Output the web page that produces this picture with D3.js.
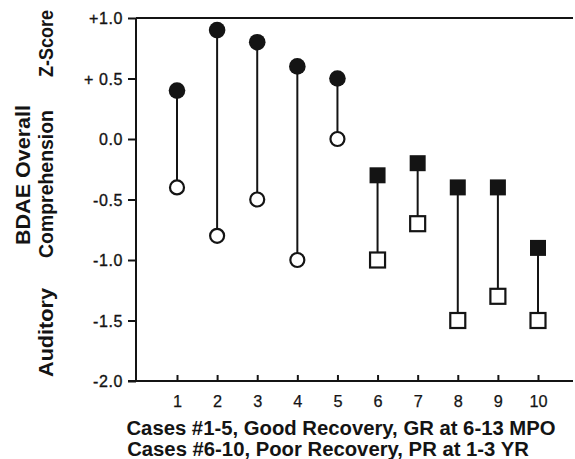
<!DOCTYPE html>
<html>
<head>
<meta charset="utf-8">
<script src="https://cdn.jsdelivr.net/npm/d3@7/dist/d3.min.js"></script>
<style>
  html, body { margin: 0; padding: 0; background: #fff; }
  svg { display: block; font-family: "Liberation Sans", Arial, Helvetica, sans-serif; }
</style>
</head>
<body>
<svg id="chart" width="575" height="459"></svg>
<script>
// ---- data ----
const cases = [1, 2, 3, 4, 5, 6, 7, 8, 9, 10];
const initialScores = [0.4, 0.9, 0.8, 0.6, 0.5, -0.3, -0.2, -0.4, -0.4, -0.9];   // filled markers
const followupScores = [-0.4, -0.8, -0.5, -1.0, 0.0, -1.0, -0.7, -1.5, -1.3, -1.5]; // open markers
const groups = ["GR", "GR", "GR", "GR", "GR", "PR", "PR", "PR", "PR", "PR"];
const yTickValues = [-2.0, -1.5, -1.0, -0.5, 0.0, 0.5, 1.0];
const yTickLabels = ["-2.0", "-1.5", "-1.0", "-0.5", "0.0", "+ 0.5", "+1.0"];
const xTitleLines = ["Cases #1-5, Good Recovery, GR at 6-13 MPO", "Cases #6-10, Poor Recovery, PR at 1-3 YR"];
const yTitleLeft = "BDAE Overall";
const yTitleRight = ["Auditory", "Comprehension", "Z-Score"];

const INK = "#141414";
const svg = d3.select("#chart");

const x = d3.scaleLinear().domain([1, 10]).range([177, 538]);
const y = d3.scaleLinear().domain([-2, 1]).range([381, 18]);
const axisX = 136;
const rightEdge = 573;

// Top frame line
svg.append("line").attr("x1", axisX).attr("x2", rightEdge)
  .attr("y1", y(1)).attr("y2", y(1)).attr("stroke", INK).attr("stroke-width", 2);

// Y axis
const yAxis = d3.axisLeft(y).tickValues(yTickValues)
  .tickFormat((d, i) => yTickLabels[i]).tickSize(8).tickPadding(5);
const gy = svg.append("g").attr("transform", `translate(${axisX},0)`).call(yAxis);
gy.select(".domain").attr("stroke", INK).attr("stroke-width", 2).attr("d", `M0,${y(1)}V${y(-2)}`);
gy.selectAll(".tick line").attr("stroke", INK).attr("stroke-width", 2);
gy.selectAll(".tick text").attr("fill", INK).attr("stroke", INK).attr("stroke-width", 0.35)
  .style("font-size", "16px").style("letter-spacing", "0.6px").attr("dy", "0.36em");

// X axis (ticks pointing inward)
const xAxis = d3.axisBottom(x).tickValues(cases).tickFormat(d3.format("d"))
  .tickSizeInner(-6).tickSizeOuter(0).tickPadding(14.5);
const gx = svg.append("g").attr("transform", `translate(0,${y(-2)})`).call(xAxis);
gx.select(".domain").attr("stroke", INK).attr("stroke-width", 2).attr("d", `M${axisX - 8},0H${rightEdge}`);
gx.selectAll(".tick line").attr("stroke", INK).attr("stroke-width", 2);
gx.selectAll(".tick text").attr("fill", INK).attr("stroke", INK).attr("stroke-width", 0.25)
  .style("font-size", "16.3px");

// Stems
const data = cases.map((c, i) => ({ c, a: initialScores[i], b: followupScores[i], g: groups[i] }));
svg.append("g").selectAll("line").data(data).join("line")
  .attr("x1", d => x(d.c)).attr("x2", d => x(d.c))
  .attr("y1", d => y(d.a)).attr("y2", d => y(d.b))
  .attr("stroke", INK).attr("stroke-width", 2);

// Markers
const mk = svg.append("g");
data.forEach(d => {
  if (d.g === "GR") {
    mk.append("circle").attr("cx", x(d.c)).attr("cy", y(d.b)).attr("r", 7)
      .attr("fill", "#fff").attr("stroke", INK).attr("stroke-width", 2.2);
    mk.append("circle").attr("cx", x(d.c)).attr("cy", y(d.a)).attr("r", 8.3)
      .attr("fill", INK);
  } else {
    mk.append("rect").attr("x", x(d.c) - 7.5).attr("y", y(d.b) - 7.5).attr("width", 15).attr("height", 15)
      .attr("fill", "#fff").attr("stroke", INK).attr("stroke-width", 2.2);
    mk.append("rect").attr("x", x(d.c) - 8).attr("y", y(d.a) - 8).attr("width", 16).attr("height", 16)
      .attr("fill", INK);
  }
});

// X title
const xt = [ {t: xTitleLines[0], cx: 341, by: 435}, {t: xTitleLines[1], cx: 328, by: 456} ];
svg.append("g").selectAll("text").data(xt).join("text")
  .attr("x", d => d.cx).attr("y", d => d.by).attr("text-anchor", "middle")
  .attr("fill", INK).style("font-size", "20.3px").style("font-weight", "bold")
  .text(d => d.t);

// Y title (rotated)
function rot(text, bx, cy, len) {
  svg.append("text").attr("transform", `translate(${bx},${cy}) rotate(-90)`)
    .attr("text-anchor", "middle").attr("fill", INK)
    .attr("textLength", len).attr("lengthAdjust", "spacingAndGlyphs")
    .style("font-size", "20px").style("font-weight", "bold").text(text);
}
rot(yTitleLeft, 30, 175, 140);
rot(yTitleRight[0], 53, 332.5, 89);
rot(yTitleRight[1], 53, 184, 148);
rot(yTitleRight[2], 53, 43.5, 67);
</script>
</body>
</html>
